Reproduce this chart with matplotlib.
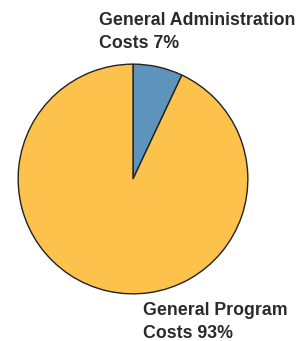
import matplotlib
matplotlib.use('Agg')
import matplotlib.pyplot as plt

labels = ['General Administration\nCosts 7%', 'General Program\nCosts 93%']
shares = [7, 93]
colors = ['#5e93bb', '#fdc24c']

W, H = 297, 341
fig = plt.figure(figsize=(W / 100, H / 100), dpi=100)

# pie box in pixels: x 17..249, y 63..295 (from top)
ax = fig.add_axes([17 / W, (H - 295) / H, 232 / W, 232 / H])
ax.pie(shares, colors=colors, startangle=90, counterclock=False,
       radius=1.0, wedgeprops=dict(edgecolor='#222222', linewidth=1.0))
ax.set_xlim(-1.01, 1.01)
ax.set_ylim(-1.01, 1.01)
ax.set_aspect('equal')
ax.axis('off')

fig.text(99 / W, 1 - 12 / H, labels[0], ha='left', va='top',
         fontsize=12.8, fontweight='bold', family='Liberation Sans',
         color='#2a2a2a', linespacing=1.5)
fig.text(143 / W, 1 - 302 / H, labels[1], ha='left', va='top',
         fontsize=12.8, fontweight='bold', family='Liberation Sans',
         color='#2a2a2a', linespacing=1.5)

fig.savefig('out.png', dpi=100)
